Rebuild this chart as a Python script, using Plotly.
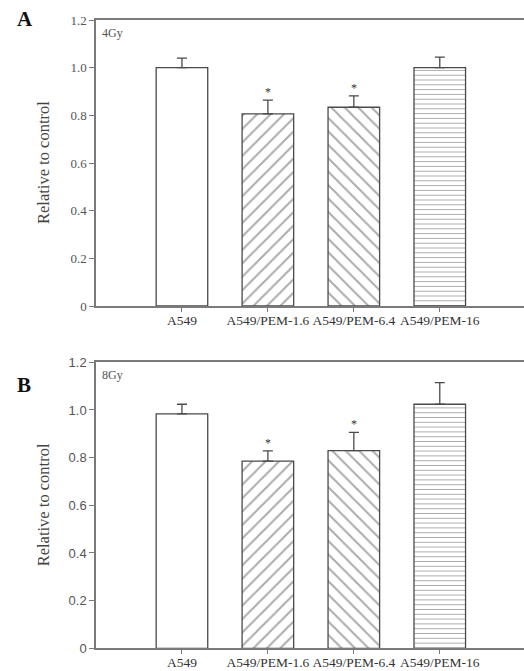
import plotly.graph_objects as go

categories = ["A549", "A549/PEM-1.6", "A549/PEM-6.4", "A549/PEM-16"]
values_4gy = [1.0, 0.806, 0.834, 1.0]
errors_4gy = [0.040, 0.058, 0.048, 0.044]
values_8gy = [0.984, 0.785, 0.829, 1.024]
errors_8gy = [0.040, 0.043, 0.077, 0.091]
significant = [False, True, True, False]
patterns = ["", "/", "\\", "-"]
pattern_sizes = [8, 9.5, 9.5, 4.8]
y_tickvals = [0, 0.2, 0.4, 0.6, 0.8, 1.0, 1.2]
y_ticktext = ["0", "0.2", "0.4", "0.6", "0.8", "1.0", "1.2"]

W, H = 524, 671
L = 96
SERIF = "Liberation Serif, Times New Roman, serif"
SANS = "Liberation Sans, Arial, sans-serif"
AXIS_COLOR = "#7a7a7a"
BAR_LINE = "#4a4a4a"

def py(pix):
    return 1 - pix / H

def px_x(pix):
    return (pix - L) / (W - L)

fig = go.Figure()

panels = [
    dict(vals=values_4gy, errs=errors_4gy, x="x", y="y", top=20, bottom=306,
         dose="4Gy", letter="A", tickfont=SERIF),
    dict(vals=values_8gy, errs=errors_8gy, x="x2", y="y2", top=362.3, bottom=648.3,
         dose="8Gy", letter="B", tickfont=SANS),
]

annotations = []
for i, p in enumerate(panels):
    fig.add_trace(go.Bar(
        x=categories, y=p["vals"], xaxis=p["x"], yaxis=p["y"], width=0.6,
        marker=dict(
            color="white",
            line=dict(color=BAR_LINE, width=1.3),
            pattern=dict(shape=patterns, fgcolor="#555555", bgcolor="white",
                         size=pattern_sizes, solidity=0.2, fillmode="overlay"),
        ),
        error_y=dict(type="data", symmetric=False, array=p["errs"],
                     arrayminus=[0] * len(p["errs"]), color=BAR_LINE,
                     thickness=1.3, width=5),
        showlegend=False,
    ))
    yref = p["y"]
    xref = p["x"]
    for c, v, e, s in zip(categories, p["vals"], p["errs"], significant):
        if s:
            annotations.append(dict(x=c, y=v + e, xref=xref, yref=yref, text="*",
                                    showarrow=False, yanchor="bottom", yshift=-1,
                                    font=dict(family=SERIF, size=12, color="#333")))
    annotations.append(dict(x=px_x(100), y=py(p["top"] + 4), xref="paper", yref="paper",
                            text=p["dose"], showarrow=False, xanchor="left", yanchor="top",
                            font=dict(family=SERIF, size=12, color="#555")))
    annotations.append(dict(x=px_x(43), y=py((p["top"] + p["bottom"]) / 2), xref="paper",
                            yref="paper", text="Relative to control", textangle=-90,
                            showarrow=False, xanchor="center", yanchor="middle",
                            font=dict(family=SERIF, size=16.5, color="#444")))
    annotations.append(dict(x=px_x(15), y=py(p["top"] - 1 if i == 0 else p["top"] + 23),
                            xref="paper", yref="paper", text="<b>%s</b>" % p["letter"],
                            showarrow=False, xanchor="left", yanchor="middle",
                            font=dict(family=SERIF, size=21, color="#111")))

def xaxis(anchor):
    return dict(anchor=anchor, domain=[0, 1], range=[-1, 3.98], showline=True,
                linecolor=AXIS_COLOR, linewidth=1.5, mirror=True, ticks="outside",
                ticklen=4, tickcolor=AXIS_COLOR, tickwidth=1.2, showgrid=False,
                zeroline=False, automargin=False, ticklabelstandoff=-3, tickangle=0,
                tickfont=dict(family=SERIF, size=13.5, color="#333"))

def yaxis(anchor, top, bottom, font):
    return dict(anchor=anchor, domain=[py(bottom), py(top)], range=[0, 1.2],
                tickvals=y_tickvals, ticktext=y_ticktext, showline=True,
                linecolor=AXIS_COLOR, linewidth=1.5, ticks="outside", ticklen=5,
                tickcolor=AXIS_COLOR, tickwidth=1.2, showgrid=False, zeroline=False,
                automargin=False, tickfont=dict(family=font, size=13, color="#555"))

fig.update_layout(
    width=W, height=H, template="none",
    margin=dict(l=L, r=0, t=0, b=0),
    paper_bgcolor="white", plot_bgcolor="white",
    xaxis=xaxis("y"), xaxis2=xaxis("y2"),
    yaxis=yaxis("x", panels[0]["top"], panels[0]["bottom"], SERIF),
    yaxis2=yaxis("x2", panels[1]["top"], panels[1]["bottom"], SANS),
    annotations=annotations, bargap=0.4,
)

fig.write_html("out.html")
